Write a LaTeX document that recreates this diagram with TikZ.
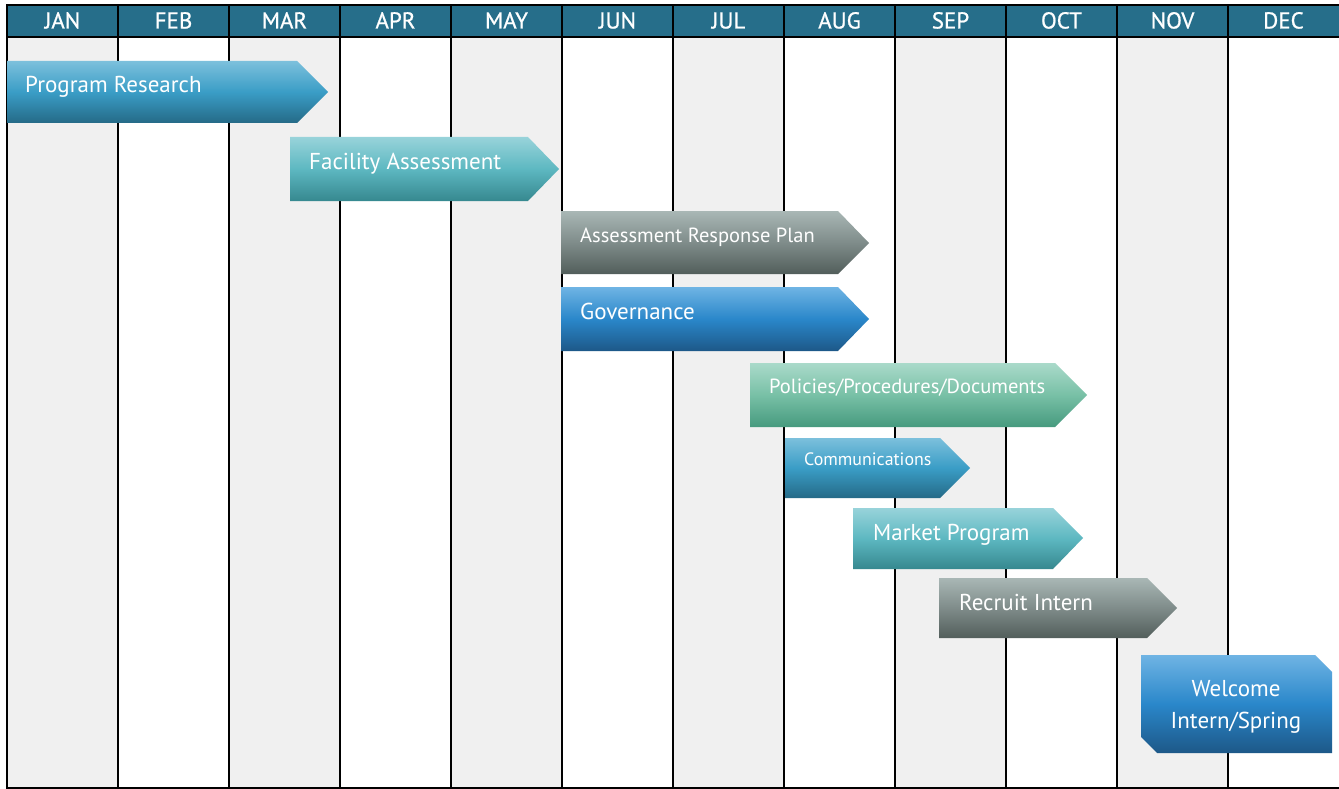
\documentclass[tikz,border=0pt]{standalone}
\usepackage{fontspec}
\setmainfont{PT Sans}
\newfontfamily\hdrfont[FakeBold=0.8]{PT Sans}
\definecolor{colgray}{HTML}{F0F0F0}
\definecolor{hdrblue}{HTML}{266E8A}
\begin{document}
\begin{tikzpicture}[x=1pt,y=-1pt,
  grid/.style={line width=1.8pt, black},
  hdr/.style={font=\hdrfont\fontsize{23}{25}\selectfont, text=white, anchor=base, inner sep=0pt},
  lbl/.style={text=white, anchor=base west, inner sep=0pt},
  big/.style={font=\fontsize{23}{26}\selectfont},
  mid/.style={font=\fontsize{20.5}{23}\selectfont},
  small/.style={font=\fontsize{17.9}{20}\selectfont},
  blueA/.style={top color={rgb,255:red,124;green,192;blue,220}, bottom color={rgb,255:red,37;green,106;blue,135}, middle color={rgb,255:red,58;green,157;blue,198}},
  blueB/.style={top color={rgb,255:red,111;green,180;blue,228}, bottom color={rgb,255:red,29;green,88;blue,136}, middle color={rgb,255:red,42;green,135;blue,202}},
  tealC/.style={top color={rgb,255:red,152;green,211;blue,218}, bottom color={rgb,255:red,54;green,136;blue,143}, middle color={rgb,255:red,93;green,184;blue,193}},
  grayC/.style={top color={rgb,255:red,169;green,183;blue,181}, bottom color={rgb,255:red,82;green,94;blue,91}, middle color={rgb,255:red,127;green,140;blue,138}},
  greenC/.style={top color={rgb,255:red,170;green,218;blue,202}, bottom color={rgb,255:red,70;green,154;blue,126}, middle color={rgb,255:red,120;green,192;blue,166}}
]
\useasboundingbox (0,0) rectangle (1339,789);
\fill[white] (0,0) rectangle (1339,789);
% shaded columns
\foreach \i in {0,2,4,6,8,10} \fill[colgray] ({7+111*\i},37) rectangle ({118+111*\i},788);
% header band
\fill[hdrblue] (7,5) rectangle (1339,37);
% grid
\draw[grid] (6.1,5) -- (1339,5);
\draw[grid] (7,37) -- (1339,37);
\draw[grid] (6.1,788) -- (1339,788);
\foreach \i in {0,...,11} \draw[grid] ({7+111*\i},5) -- ({7+111*\i},788);
% month labels
\foreach \m [count=\i from 0] in {JAN,FEB,MAR,APR,MAY,JUN,JUL,AUG,SEP,OCT,NOV,DEC}
  \node[hdr] (h\i) at ({62.5+111*\i},28.5) {\m};
% bars
\shade[blueA] (7,61) -- (297,61) -- (328,92) -- (297,123) -- (7,123) -- cycle;
\node[lbl,big] (t1) at (25,93) {Program Research};
\shade[tealC] (290,137) -- (528,137) -- (559,169) -- (528,201) -- (290,201) -- cycle;
\node[lbl,big] (t2) at (309,169) {Facility Assessment};
\shade[grayC] (561,211) -- (838,211) -- (869,243) -- (838,274) -- (561,274) -- cycle;
\node[lbl,mid] (t3) at (580,242) {Assessment Response Plan};
\shade[blueB] (561,287) -- (838,287) -- (869,319) -- (838,351) -- (561,351) -- cycle;
\node[lbl,big] (t4) at (580,319) {Governance};
\shade[greenC] (750,363) -- (1055,363) -- (1087,395) -- (1055,427) -- (750,427) -- cycle;
\node[lbl,mid] (t5) at (769,393) {Policies/Procedures/Documents};
\shade[blueA] (785,438) -- (940,438) -- (970,468) -- (940,498) -- (785,498) -- cycle;
\node[lbl,small] (t6) at (804,465) {Communications};
\shade[tealC] (853,508) -- (1053,508) -- (1083,538) -- (1053,569) -- (853,569) -- cycle;
\node[lbl,big] (t7) at (873,540) {Market Program};
\shade[grayC] (939,578) -- (1147,578) -- (1177,608) -- (1147,638) -- (939,638) -- cycle;
\node[lbl,big] (t8) at (959,610) {Recruit Intern};
\shade[blueB] (1141,655) -- (1315,655) -- (1332,672) -- (1332,753) -- (1157,753) -- (1141,737) -- cycle;
\node[text=white, inner sep=0pt, align=center, font=\fontsize{23}{32}\selectfont] (t9) at (1236,707) {Welcome\\Intern/Spring};
\end{tikzpicture}
\end{document}
